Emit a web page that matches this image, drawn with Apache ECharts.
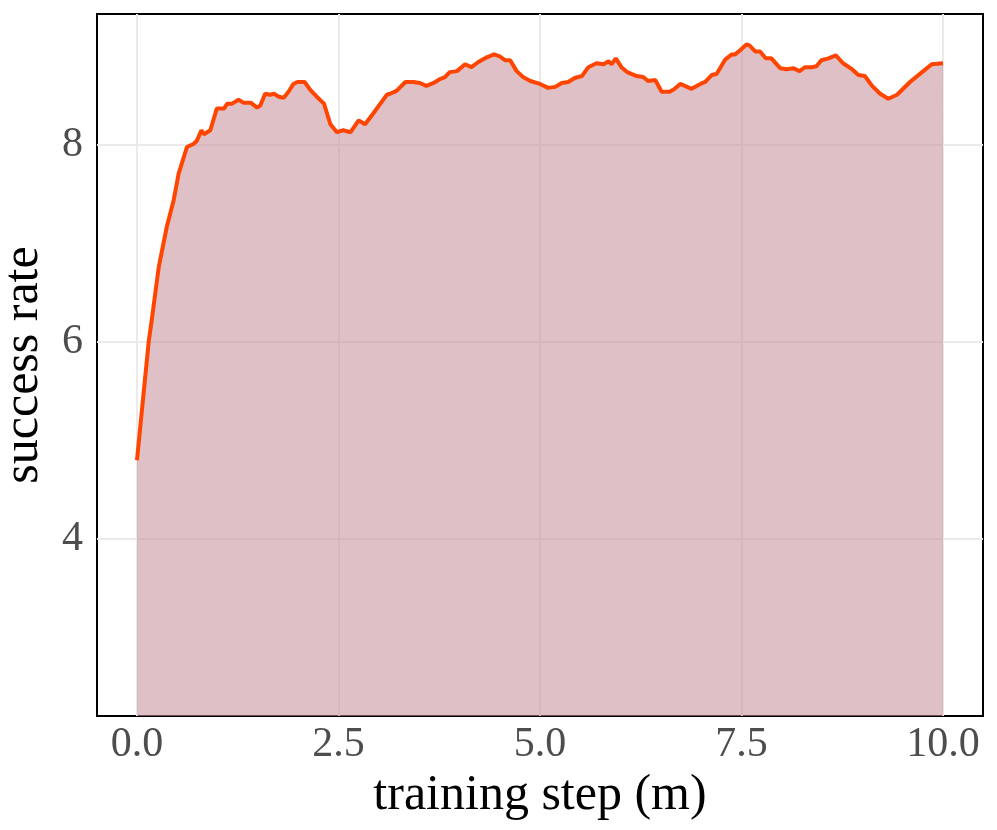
<!DOCTYPE html>
<html>
<head>
<meta charset="utf-8">
<script src="https://cdn.jsdelivr.net/npm/echarts@6/dist/echarts.min.js"></script>
<style>
  html, body { margin: 0; padding: 0; background: #fff; }
  #chart { width: 997px; height: 830px; }
</style>
</head>
<body>
<div id="chart"></div>
<script>
// training step (millions) and smoothed success rate
const steps = [
  0, 0.145, 0.186, 0.27, 0.37, 0.455, 0.517, 0.62, 0.70, 0.74, 0.80, 0.83, 0.91, 0.99, 1.01,
  1.08, 1.12, 1.18, 1.26, 1.32, 1.41, 1.49, 1.53, 1.59, 1.65, 1.70, 1.76, 1.82, 1.88, 1.94,
  1.99, 2.08, 2.15, 2.23, 2.32, 2.40, 2.48, 2.56, 2.65, 2.75, 2.83, 2.94, 3.02, 3.10, 3.14,
  3.22, 3.33, 3.43, 3.51, 3.59, 3.68, 3.76, 3.82, 3.88, 3.97, 4.07, 4.15, 4.23, 4.34, 4.43,
  4.50, 4.57, 4.63, 4.71, 4.79, 4.88, 5.00, 5.10, 5.19, 5.27, 5.35, 5.43, 5.52, 5.60, 5.70,
  5.79, 5.85, 5.89, 5.94, 6.01, 6.08, 6.20, 6.28, 6.34, 6.43, 6.51, 6.61, 6.67, 6.74, 6.88,
  6.99, 7.05, 7.13, 7.19, 7.30, 7.38, 7.42, 7.48, 7.56, 7.60, 7.67, 7.73, 7.80, 7.87, 7.98,
  8.06, 8.14, 8.22, 8.29, 8.37, 8.43, 8.49, 8.58, 8.67, 8.76, 8.87, 8.95, 9.03, 9.12, 9.22,
  9.32, 9.43, 9.59, 9.74, 9.86, 10.0
]
const successRate = [
  4.80, 6.00, 6.24, 6.76, 7.17, 7.44, 7.71, 7.98, 8.01, 8.04, 8.15, 8.11, 8.15, 8.37, 8.38,
  8.37, 8.42, 8.42, 8.46, 8.43, 8.43, 8.38, 8.40, 8.52, 8.51, 8.52, 8.49, 8.48, 8.54, 8.62,
  8.64, 8.64, 8.56, 8.49, 8.42, 8.21, 8.13, 8.15, 8.13, 8.25, 8.21, 8.33, 8.42, 8.51, 8.52,
  8.55, 8.64, 8.64, 8.63, 8.60, 8.63, 8.67, 8.69, 8.74, 8.75, 8.82, 8.79, 8.84, 8.89, 8.92,
  8.90, 8.86, 8.86, 8.75, 8.69, 8.65, 8.62, 8.58, 8.59, 8.63, 8.64, 8.68, 8.70, 8.79, 8.83,
  8.82, 8.85, 8.82, 8.88, 8.79, 8.74, 8.70, 8.69, 8.65, 8.66, 8.54, 8.54, 8.57, 8.62, 8.57,
  8.62, 8.64, 8.71, 8.72, 8.87, 8.92, 8.92, 8.96, 9.02, 9.01, 8.95, 8.95, 8.88, 8.88, 8.78,
  8.77, 8.78, 8.75, 8.79, 8.79, 8.80, 8.86, 8.88, 8.91, 8.83, 8.77, 8.71, 8.70, 8.60, 8.52,
  8.47, 8.51, 8.64, 8.74, 8.82, 8.83
]
const xTicks = [0, 2.5, 5, 7.5, 10]
const yTicks = [4, 6, 8]

const points = steps.map((s, i) => [s, successRate[i]])
const gridLineColor = '#ebebeb'

const chart = echarts.init(document.getElementById('chart'))
chart.setOption({
  backgroundColor: '#fff',
  animation: false,
  textStyle: { fontFamily: 'Liberation Serif' },
  grid: {
    left: 97,
    top: 14,
    width: 886,
    height: 702,
    outerBoundsMode: 'none',
    containLabel: false,
    show: true,
    borderColor: '#000',
    borderWidth: 2,
    backgroundColor: 'transparent'
  },
  xAxis: {
    type: 'value',
    min: -0.496,
    max: 10.496,
    name: 'training step (m)',
    nameLocation: 'middle',
    nameGap: 50,
    nameTextStyle: { fontSize: 50, color: '#000', fontFamily: 'Liberation Serif' },
    axisLine: { show: false },
    axisTick: { show: false },
    splitLine: { show: false },
    axisLabel: {
      customValues: xTicks,
      formatter: v => v.toFixed(1),
      fontSize: 42,
      color: '#4d4d4d',
      margin: 8,
      fontFamily: 'Liberation Serif'
    }
  },
  yAxis: {
    type: 'value',
    min: 2.203,
    max: 9.33,
    name: 'success rate',
    nameLocation: 'middle',
    nameGap: 48,
    nameMoveOverlap: false,
    nameTextStyle: { fontSize: 50, color: '#000', fontFamily: 'Liberation Serif' },
    axisLine: { show: false },
    axisTick: { show: false },
    splitLine: { show: false },
    axisLabel: {
      customValues: yTicks,
      formatter: v => String(v),
      fontSize: 42,
      color: '#4d4d4d',
      margin: 14,
      fontFamily: 'Liberation Serif'
    }
  },
  series: [
    {
      // major grid lines, drawn under the filled area
      name: 'grid',
      type: 'line',
      z: 1,
      silent: true,
      data: [],
      markLine: {
        z: 1,
        silent: true,
        animation: false,
        symbol: ['none', 'none'],
        label: { show: false },
        emphasis: { disabled: true },
        lineStyle: { color: gridLineColor, width: 2, type: 'solid' },
        data: xTicks.map(v => ({ xAxis: v })).concat(yTicks.map(v => ({ yAxis: v })))
      }
    },
    {
      name: 'success rate',
      type: 'line',
      z: 3,
      data: points,
      showSymbol: false,
      smooth: false,
      lineStyle: { color: '#ff4500', width: 4 },
      areaStyle: { origin: 'start', color: 'rgb(197, 140, 151)', opacity: 0.55 }
    }
  ]
})
</script>
</body>
</html>
